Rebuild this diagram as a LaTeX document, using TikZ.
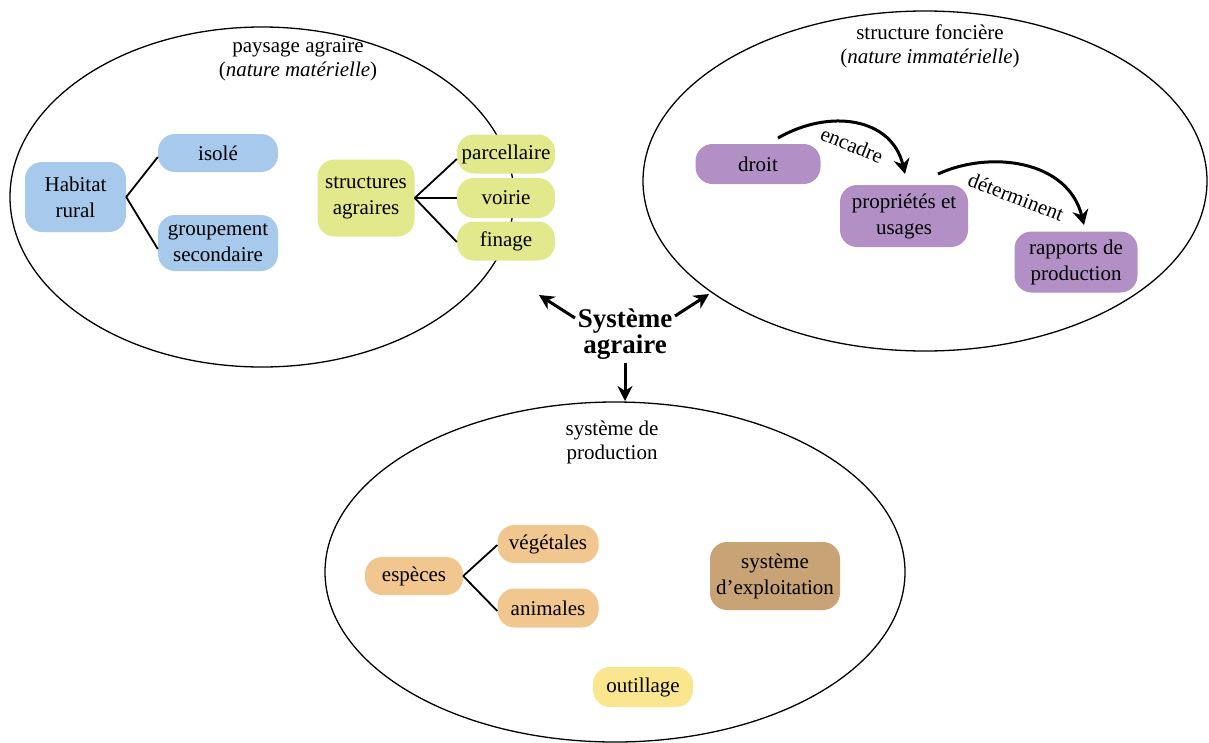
\documentclass[tikz,border=0pt]{standalone}
\usepackage{fontspec}
\setmainfont{Liberation Serif}
\usetikzlibrary{arrows.meta,shapes.geometric}
\definecolor{cblue}{RGB}{166,201,236}
\definecolor{cgreen}{RGB}{225,233,140}
\definecolor{cpurple}{RGB}{178,143,196}
\definecolor{corange}{RGB}{242,198,143}
\definecolor{cbrown}{RGB}{199,163,117}
\definecolor{cyellow}{RGB}{250,230,142}
\tikzset{
  rbox/.style={rounded corners=17pt, align=center, inner sep=0pt},
  zone/.style={ellipse, draw, line width=1.3pt, inner sep=0pt},
  tline/.style={line width=1.8pt},
  bigarrow/.style={line width=3pt, -{Stealth[length=15pt,width=15pt]}},
  curvearrow/.style={line width=3pt, -{Stealth[length=15pt,width=16pt,inset=5pt]}},
  title/.style={align=center, font=\fontsize{21}{24}\selectfont},
  arclabel/.style={font=\fontsize{21}{22}\selectfont},
}
\begin{document}
\begin{tikzpicture}[x=1pt,y=-1pt,font=\fontsize{21}{26}\selectfont]
\useasboundingbox (0,0) rectangle (1209,742);
% zones
\node[zone, minimum width=504pt, minimum height=340pt] (z1) at (262,197) {};
\node[zone, minimum width=564pt, minimum height=340pt] (z2) at (925,181) {};
\node[zone, minimum width=580pt, minimum height=340pt] (z3) at (615,572) {};
% titles
\node[title] (t1) at (298,60) {paysage agraire\\(\textit{nature matérielle})};
\node[title] (t2) at (930,46) {structure foncière\\(\textit{nature immatérielle})};
\node[title] (t3) at (612,442) {système de\\production};
% left zone
\node[rbox, fill=cblue, minimum width=101pt, minimum height=70pt] (hab) at (75.5,197) {Habitat\\rural};
\node[rbox, fill=cblue, minimum width=120pt, minimum height=38pt] (iso) at (218,153) {isolé};
\node[rbox, fill=cblue, minimum width=120pt, minimum height=56pt] (grp) at (218,243) {groupement\\secondaire};
\node[rbox, fill=cgreen, minimum width=97pt, minimum height=77pt] (str) at (366,198) {structures\\agraires};
\node[rbox, fill=cgreen, minimum width=98pt, minimum height=39pt] (par) at (506,154) {parcellaire};
\node[rbox, fill=cgreen, minimum width=98pt, minimum height=40pt] (voi) at (506,198) {voirie};
\node[rbox, fill=cgreen, minimum width=98pt, minimum height=39pt] (fin) at (506,241) {finage};
\draw[tline] (hab.east) -- ([yshift=-4pt]iso.west);
\draw[tline] (hab.east) -- ([yshift=-6pt]grp.west);
\draw[tline] (str.east) -- ([yshift=-5pt]par.west);
\draw[tline] (str.east) -- (voi.west);
\draw[tline] (str.east) -- ([yshift=-1pt]fin.west);
% right zone
\node[rbox, fill=cpurple, minimum width=125pt, minimum height=40pt] (dro) at (758,164) {droit};
\node[rbox, fill=cpurple, minimum width=128pt, minimum height=62pt] (pro) at (904,216) {propriétés et\\usages};
\node[rbox, fill=cpurple, minimum width=123pt, minimum height=61pt] (rap) at (1076,262) {rapports de\\production};
\coordinate (e1s) at (778,138);
\coordinate (e1e) at (905,174);
\coordinate (e2s) at (938,174);
\coordinate (e2e) at (1084,225);
\draw[curvearrow] (e1s) .. controls (830,108) and (892,118) .. (e1e);
\draw[curvearrow] (e2s) .. controls (990,150) and (1068,160) .. (e2e);
\node[arclabel, rotate=-22] (l1) at (852,145) {encadre};
\node[arclabel, rotate=-21] (l2) at (1016,197) {déterminent};
% centre
\node[align=center, font=\bfseries\fontsize{27}{24}\selectfont] (sys) at (625,334) {Système\\agraire};
\coordinate (a1) at (539,295);
\coordinate (a2) at (709,294);
\coordinate (a3) at (625,401);
\draw[bigarrow] (575,318) -- (a1);
\draw[bigarrow] (675,316) -- (a2);
\draw[bigarrow] (sys.south) -- (a3);
% bottom zone
\node[rbox, fill=corange, minimum width=98pt, minimum height=38pt] (esp) at (414,576) {espèces};
\node[rbox, fill=corange, minimum width=101pt, minimum height=38pt] (veg) at (548,544) {végétales};
\node[rbox, fill=corange, minimum width=101pt, minimum height=39pt] (ani) at (548,608) {animales};
\node[rbox, fill=cbrown, minimum width=130pt, minimum height=68pt] (exp) at (775,576) {système\\d’exploitation};
\node[rbox, fill=cyellow, minimum width=100pt, minimum height=40pt] (out) at (643,687) {outillage};
\draw[tline] (esp.east) -- ([yshift=-1pt]veg.west);
\draw[tline] (esp.east) -- ([yshift=-3pt]ani.west);
\end{tikzpicture}
\end{document}
